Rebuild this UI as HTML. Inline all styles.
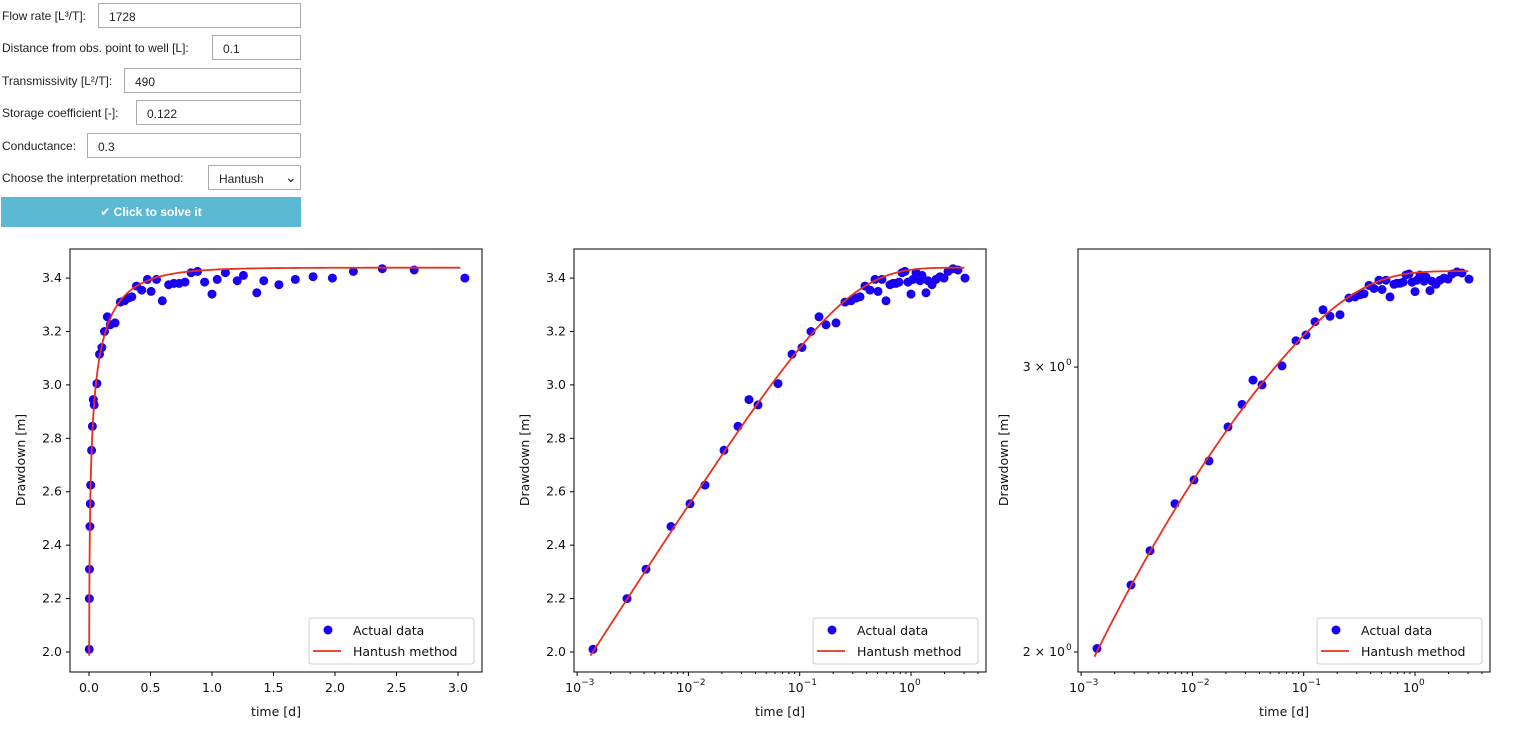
<!DOCTYPE html>
<html><head><meta charset="utf-8"><style>
body{margin:0;width:1534px;height:730px;background:#fff;font-family:"Liberation Sans","DejaVu Sans",sans-serif;overflow:hidden;position:relative}
.row{position:absolute;left:0;height:27px;font-size:12px;color:#222}
.row span{position:absolute;left:2px;top:6px;white-space:nowrap}
.row .in{position:absolute;top:0;height:25px;border:1px solid #aaa;right:0;box-sizing:border-box;padding:6px 0 0 10px;font-size:12px}
.btn{position:absolute;left:1px;top:197px;width:300px;height:30px;background:#5bb9d4;color:#fff;font-weight:bold;font-size:12px;text-align:center;line-height:30px}
svg{position:absolute;left:0;top:0}
svg text{font-family:"DejaVu Sans",sans-serif;font-size:12.5px;fill:#111}
</style></head><body>
<div class="row" style="top:3px;width:301px"><span>Flow rate [L³/T]:</span><div class="in" style="left:98px">1728</div></div>
<div class="row" style="top:35px;width:301px"><span>Distance from obs. point to well [L]:</span><div class="in" style="left:212px">0.1</div></div>
<div class="row" style="top:68px;width:301px"><span>Transmissivity [L²/T]:</span><div class="in" style="left:124px">490</div></div>
<div class="row" style="top:100px;width:301px"><span>Storage coefficient [-]:</span><div class="in" style="left:136px">0.122</div></div>
<div class="row" style="top:133px;width:301px"><span>Conductance:</span><div class="in" style="left:87px">0.3</div></div>
<div class="row" style="top:165px;width:301px"><span>Choose the interpretation method:</span><div class="in" style="left:208px">Hantush<span style="left:76px;top:3px;font-size:14px">&#8964;</span></div></div>
<div class="btn">✔ Click to solve it</div>
<svg id="s" width="1534" height="730" xmlns="http://www.w3.org/2000/svg"></svg>
<script>
var px=[593,627,646,671,690,705,724,738,749,758,778,792,802,811,819,826,836,845,851,856,860,865,870,875,878,882,886,890,893,896,899,902,905,908,911,913,916,920,922,926,928,932,936,940,944,948,953,958,965];
var sy=[2.01,2.20,2.31,2.47,2.555,2.625,2.755,2.845,2.945,2.925,3.005,3.115,3.14,3.2,3.255,3.225,3.232,3.31,3.315,3.325,3.33,3.37,3.355,3.395,3.35,3.395,3.315,3.375,3.38,3.38,3.385,3.42,3.425,3.385,3.34,3.395,3.42,3.39,3.41,3.345,3.39,3.375,3.395,3.405,3.40,3.425,3.435,3.43,3.40];
var T=px.map(function(x){return Math.pow(10,(x-911)/111.3)});
function W(u){var b=1.5e-6,s=0,n=600,a=Math.log(u),e=Math.log(60),h=(e-a)/n;for(var i=0;i<=n;i++){var y=Math.exp(a+i*h);var f=Math.exp(-y-b/y);s+=(i==0||i==n?0.5:1)*f;}return s*h;}
function S(t){return 0.2806*W(6.22e-7/t);}
var svg=document.getElementById('s'),h='';
var Y0=249,Y1=672;
function ylin(v){return 652-(v-2)*267.1}
function ylog(v){return 652-Math.log10(v/2)*1618}
function panel(L,xf,yf,logx,logy){
 var R=L+412;
 var d='';for(var i=0;i<=300;i++){var lt=-2.88+i*(3.36/300);var t=Math.pow(10,lt);d+=(i?'L':'M')+xf(t).toFixed(2)+','+yf(S(t)).toFixed(2);}
 for(var i=0;i<T.length;i++)h+='<circle cx="'+xf(T[i]).toFixed(1)+'" cy="'+yf(sy[i]).toFixed(1)+'" r="4.5" fill="#1a00f0"/>';
 h+='<path d="'+d+'" fill="none" stroke="#e8301e" stroke-width="1.8"/>';
 h+='<rect x="'+L+'" y="'+Y0+'" width="412" height="423" fill="none" stroke="#000" stroke-width="1"/>';
 if(logx){for(var e=-3;e<=0;e++){var x=xf(Math.pow(10,e));h+='<line x1="'+x+'" x2="'+x+'" y1="672" y2="676" stroke="#000"/><text x="'+(x-4)+'" y="692" text-anchor="middle">10</text><text x="'+(x+4)+'" y="685" style="font-size:9px">'+(e==0?'0':'−'+(-e))+'</text>';
  for(var m=2;m<10;m++){var xm=xf(m*Math.pow(10,e));if(xm<R)h+='<line x1="'+xm+'" x2="'+xm+'" y1="672" y2="674" stroke="#000"/>';}}}
 else{for(var k=0;k<=6;k++){var v=k*0.5,x=xf(v);h+='<line x1="'+x+'" x2="'+x+'" y1="672" y2="676" stroke="#000"/><text x="'+x+'" y="692" text-anchor="middle">'+v.toFixed(1)+'</text>';}}
 if(logy){[[3,'3 × 10'],[2,'2 × 10']].forEach(function(p){var y=ylog(p[0]);h+='<line x1="'+(L-4)+'" x2="'+L+'" y1="'+y+'" y2="'+y+'" stroke="#000"/><text x="'+(L-13)+'" y="'+(y+4)+'" text-anchor="end">'+p[1]+'</text><text x="'+(L-12)+'" y="'+(y-2)+'" style="font-size:9px">0</text>';});}
 else{for(var k=0;k<=7;k++){var v=2+k*0.2,y=ylin(v);h+='<line x1="'+(L-4)+'" x2="'+L+'" y1="'+y+'" y2="'+y+'" stroke="#000"/><text x="'+(L-8)+'" y="'+(y+4)+'" text-anchor="end">'+v.toFixed(1)+'</text>';}}
 h+='<text x="'+(L+206)+'" y="716" text-anchor="middle">time [d]</text>';
 h+='<text transform="translate('+(L-(logy?70:45))+',460) rotate(-90)" text-anchor="middle">Drawdown [m]</text>';
 var lx=R-173;
 h+='<rect x="'+lx+'" y="618" width="165" height="46" rx="3" fill="#fff" stroke="#ccc"/><circle cx="'+(lx+19)+'" cy="630" r="4.5" fill="#1a00f0"/><text x="'+(lx+44)+'" y="635">Actual data</text><line x1="'+(lx+4)+'" x2="'+(lx+32)+'" y1="651" y2="651" stroke="#e8301e" stroke-width="1.8"/><text x="'+(lx+44)+'" y="656">Hantush method</text>';
}
panel(70,function(t){return 89+t*123},ylin,false,false);
panel(574,function(t){return 911+Math.log10(t)*111.3},ylin,true,false);
panel(1078,function(t){return 1415+Math.log10(t)*111.3},ylog,true,true);
svg.innerHTML=h;
</script>
</body></html>
